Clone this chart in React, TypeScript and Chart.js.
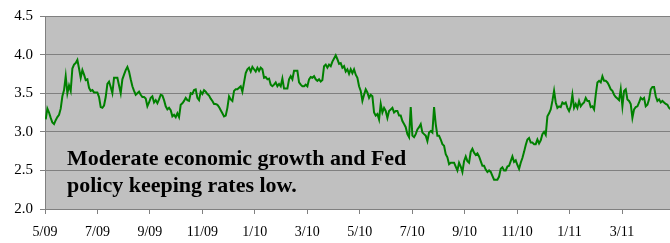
import React, { useEffect, useRef } from "react";
import { Chart, registerables } from "chart.js";

Chart.register(...registerables);

// x-axis tick labels (every two months, starting May 2009)
const TICK_LABELS = ["5/09", "7/09", "9/09", "11/09", "1/10", "3/10", "5/10", "7/10", "9/10", "11/10", "1/11", "3/11"];
// y-axis range
const Y_MIN = 2.0;
const Y_MAX = 4.5;
const Y_STEP = 0.5;
// time span of the x axis, in months after 1 May 2009
const X_MAX_MONTHS = 23.83;
// sampling of the series: first sample and spacing, in months
const START_MONTH = 0.027;
const MONTHS_PER_SAMPLE = 0.06355;

// 10-year yield (%)
const YIELDS = [
  3.16, 3.30, 3.25, 3.18, 3.12, 3.10, 3.15, 3.19, 3.22, 3.30,
  3.46, 3.54, 3.72, 3.50, 3.60, 3.53, 3.82, 3.87, 3.89, 3.93,
  3.82, 3.70, 3.80, 3.74, 3.67, 3.68, 3.57, 3.53, 3.54, 3.51,
  3.51, 3.51, 3.45, 3.32, 3.31, 3.34, 3.45, 3.62, 3.65, 3.58,
  3.50, 3.70, 3.70, 3.70, 3.60, 3.50, 3.68, 3.74, 3.80, 3.84,
  3.78, 3.68, 3.59, 3.53, 3.48, 3.50, 3.52, 3.48, 3.45, 3.45,
  3.43, 3.33, 3.38, 3.44, 3.46, 3.38, 3.41, 3.37, 3.42, 3.48,
  3.47, 3.41, 3.33, 3.29, 3.31, 3.28, 3.20, 3.22, 3.19, 3.24,
  3.19, 3.35, 3.37, 3.40, 3.44, 3.41, 3.40, 3.50, 3.49, 3.54,
  3.55, 3.44, 3.41, 3.52, 3.49, 3.54, 3.52, 3.49, 3.47, 3.43,
  3.40, 3.36, 3.36, 3.35, 3.32, 3.28, 3.24, 3.20, 3.21, 3.31,
  3.46, 3.42, 3.40, 3.53, 3.55, 3.55, 3.57, 3.59, 3.52, 3.64,
  3.76, 3.81, 3.83, 3.78, 3.84, 3.81, 3.78, 3.83, 3.79, 3.83,
  3.81, 3.70, 3.71, 3.68, 3.69, 3.61, 3.59, 3.61, 3.64, 3.59,
  3.62, 3.59, 3.69, 3.56, 3.56, 3.56, 3.68, 3.72, 3.68, 3.79,
  3.79, 3.79, 3.64, 3.61, 3.59, 3.59, 3.61, 3.59, 3.68, 3.71,
  3.70, 3.72, 3.68, 3.66, 3.68, 3.65, 3.67, 3.85, 3.87, 3.83,
  3.87, 3.85, 3.91, 3.95, 3.99, 3.94, 3.88, 3.89, 3.83, 3.85,
  3.78, 3.81, 3.75, 3.81, 3.76, 3.81, 3.74, 3.70, 3.59, 3.53,
  3.40, 3.48, 3.55, 3.51, 3.44, 3.48, 3.46, 3.25, 3.21, 3.23,
  3.16, 3.36, 3.25, 3.31, 3.27, 3.18, 3.27, 3.29, 3.31, 3.25,
  3.27, 3.27, 3.21, 3.21, 3.14, 3.10, 3.06, 2.97, 2.93, 3.32,
  2.95, 2.93, 2.97, 3.03, 3.06, 3.10, 2.99, 2.97, 2.95, 2.88,
  2.99, 3.01, 2.99, 3.32, 3.10, 2.95, 2.95, 2.90, 2.84, 2.82,
  2.71, 2.67, 2.58, 2.60, 2.60, 2.60, 2.55, 2.50, 2.60, 2.55,
  2.48, 2.62, 2.68, 2.62, 2.60, 2.74, 2.78, 2.73, 2.70, 2.72,
  2.68, 2.62, 2.56, 2.56, 2.51, 2.48, 2.50, 2.48, 2.43, 2.38,
  2.38, 2.38, 2.42, 2.52, 2.54, 2.50, 2.50, 2.55, 2.56, 2.62,
  2.68, 2.61, 2.63, 2.57, 2.52, 2.60, 2.66, 2.74, 2.83, 2.90,
  2.92, 2.86, 2.86, 2.84, 2.84, 2.90, 2.85, 2.89, 2.97, 3.00,
  2.96, 3.20, 3.24, 3.29, 3.40, 3.53, 3.38, 3.31, 3.33, 3.32,
  3.38, 3.36, 3.38, 3.31, 3.27, 3.33, 3.48, 3.31, 3.36, 3.31,
  3.40, 3.33, 3.36, 3.38, 3.44, 3.40, 3.40, 3.32, 3.33, 3.29,
  3.48, 3.64, 3.66, 3.64, 3.72, 3.66, 3.66, 3.64, 3.60, 3.55,
  3.53, 3.48, 3.45, 3.43, 3.41, 3.55, 3.33, 3.53, 3.55, 3.42,
  3.40, 3.36, 3.18, 3.29, 3.32, 3.33, 3.38, 3.44, 3.42, 3.44,
  3.33, 3.35, 3.42, 3.55, 3.58, 3.58, 3.46, 3.40, 3.42, 3.38,
  3.40, 3.38, 3.36, 3.35, 3.31, 3.29,
];

const ANNOTATION_LINES = ["Moderate economic growth and Fed", "policy keeping rates low."];

const SERIF = "\"Liberation Serif\", \"DejaVu Serif\", serif";

const plotBackground = {
  id: "plotBackground",
  beforeDraw(chart: any) {
    const { ctx, chartArea } = chart;
    ctx.save();
    ctx.fillStyle = "#C0C0C0";
    ctx.fillRect(chartArea.left, chartArea.top, chartArea.right - chartArea.left, chartArea.bottom - chartArea.top);
    ctx.restore();
  },
};

const annotation = {
  id: "annotation",
  afterDraw(chart: any) {
    const { ctx, chartArea } = chart;
    ctx.save();
    ctx.fillStyle = "#000000";
    ctx.font = `bold 22px ${SERIF}`;
    ctx.textAlign = "left";
    ctx.textBaseline = "alphabetic";
    ANNOTATION_LINES.forEach((line, k) => {
      ctx.fillText(line, chartArea.left + 22, chartArea.top + 149 + k * 27);
    });
    ctx.restore();
  },
};

export default function App() {
  const ref = useRef<HTMLCanvasElement | null>(null);

  useEffect(() => {
    document.body.style.margin = "0";
    let chart: Chart | null = null;
    let cancelled = false;
    const build = () => {
      const canvas = ref.current;
      if (!canvas || cancelled) return;
      const points = YIELDS.map((y, i) => ({ x: START_MONTH + i * MONTHS_PER_SAMPLE, y }));
      chart = new Chart(canvas, {
        type: "line",
        data: {
          datasets: [
            {
              data: points,
              borderColor: "#008000",
              borderWidth: 2,
              pointRadius: 0,
              fill: false,
              tension: 0,
            },
          ],
        },
        options: {
          animation: false,
          responsive: false,
          devicePixelRatio: 1,
          layout: { padding: { top: 15, right: 0, left: 0, bottom: 0 } },
          plugins: { legend: { display: false }, tooltip: { enabled: false } },
          scales: {
            x: {
              type: "linear",
              min: 0,
              max: X_MAX_MONTHS,
              afterBuildTicks: (scale: any) => {
                scale.ticks = TICK_LABELS.map((_, k) => ({ value: k * 2 }));
              },
              afterFit: (scale: any) => {
                scale.height = 34;
              },
              ticks: {
                autoSkip: false,
                maxRotation: 0,
                padding: 10,
                color: "#000000",
                font: { family: SERIF, size: 14 },
                callback: (_v: any, index: number) => TICK_LABELS[index] ?? "",
              },
              grid: { drawOnChartArea: false, drawTicks: true, tickLength: 5, color: "#808080" },
              border: { display: true, color: "#808080" },
            },
            y: {
              min: Y_MIN,
              max: Y_MAX,
              afterFit: (scale: any) => {
                scale.width = 45;
              },
              ticks: {
                stepSize: Y_STEP,
                padding: 7,
                color: "#000000",
                font: { family: SERIF, size: 15 },
                callback: (v: any) => Number(v).toFixed(1),
              },
              grid: { color: "#808080", tickLength: 5, drawTicks: true },
              border: { display: true, color: "#808080" },
            },
          },
        },
        plugins: [plotBackground, annotation],
      });
    };
    const fonts: any = (document as any).fonts;
    if (fonts && fonts.load) {
      Promise.all([
        fonts.load("bold 22px \"Liberation Serif\""),
        fonts.load("15px \"Liberation Serif\""),
      ])
        .catch(() => undefined)
        .then(() => build());
    } else {
      build();
    }
    return () => {
      cancelled = true;
      if (chart) chart.destroy();
    };
  }, []);

  return (
    <div>
      <span style={{ position: "absolute", visibility: "hidden", fontFamily: "\"Liberation Serif\"" }}>
        <b>0</b>0
      </span>
      <canvas ref={ref} width={670} height={243} style={{ display: "block" }} />
    </div>
  );
}
